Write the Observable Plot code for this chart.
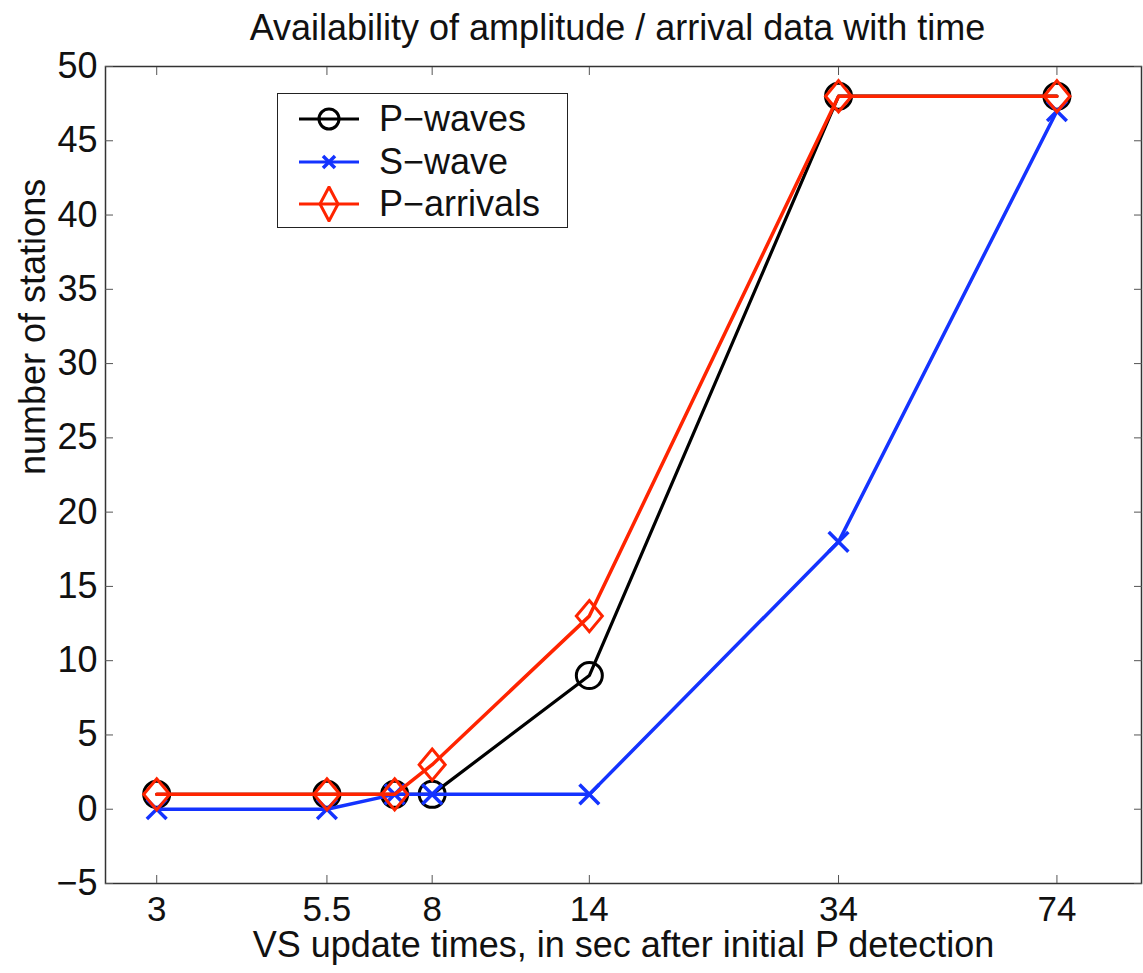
<!DOCTYPE html>
<html><head><meta charset="utf-8">
<script src="https://cdn.jsdelivr.net/npm/d3@7"></script>
<script src="https://cdn.jsdelivr.net/npm/@observablehq/plot@0.6"></script>
<style>
body{margin:0;background:#fff;font-family:"Liberation Sans",Arial,sans-serif;}
#wrap{position:relative;width:1143px;height:973px;}
#title{height:50px;line-height:56px;text-align:center;padding-left:92px;font-size:36px;color:#111;white-space:nowrap;}
#legend{position:absolute;left:277px;top:93px;width:289px;height:133px;border:1.5px solid #222;background:#fff;}
.lg{position:absolute;left:19px;height:42px;display:flex;align-items:center;font-size:36px;color:#111;white-space:nowrap;}
.lg svg{margin-right:18px;}
</style></head>
<body><div id="wrap"><div id="title">Availability of amplitude / arrival data with time</div><div id="chart"></div><div id="legend"></div></div>
<script>
const times = [3, 5.5, 7, 8, 14, 34, 74];
const pWaves = [1, 1, 1, 1, 9, 48, 48];
const sWave = [0, 0, 1, 1, 1, 18, 47];
const pArrivals = [1, 1, 1, 3, 13, 48, 48];
const xTicks = [3, 5.5, 8, 14, 34, 74];
const yTicks = [-5, 0, 5, 10, 15, 20, 25, 30, 35, 40, 45, 50];
const seriesNames = ["P\u2212waves", "S\u2212wave", "P\u2212arrivals"];
const xLabel = "VS update times, in sec after initial P detection";
const yLabel = "number of stations";
const colors = ["#000000", "#1433ff", "#ff2400"];

const rows = (vals) => times.map((t, i) => ({t, v: vals[i]}));
const dataP = rows(pWaves), dataS = rows(sWave), dataA = rows(pArrivals);

// slightly tall diamond (as in the reference)
const tallDiamond = {
  draw(ctx, size) {
    const r = Math.sqrt(size / Math.PI);
    const w = r, h = r * 1.2;
    ctx.moveTo(0, -h); ctx.lineTo(w, 0); ctx.lineTo(0, h); ctx.lineTo(-w, 0); ctx.closePath();
  }
};
const fmtY = d => d < 0 ? "\u2212" + Math.abs(d) : String(d);

const chart = Plot.plot({
  width: 1143, height: 923,
  marginLeft: 105, marginRight: 2, marginTop: 16, marginBottom: 90,
  style: {fontFamily: "'Liberation Sans', Arial, sans-serif", fontSize: "36px", color: "#111", overflow: "visible"},
  x: {type: "log", domain: [2.5, 100], axis: null},
  y: {domain: [-5, 50], axis: null},
  marks: [
    Plot.frame({stroke: "#333", strokeWidth: 1.5}),
    // inward ticks on all four sides
    Plot.axisX(xTicks, {anchor: "bottom", tickSize: -8, tickFormat: () => "", label: null, stroke: "#555"}),
    Plot.axisX(xTicks, {anchor: "top", tickSize: -8, tickFormat: () => "", label: null, stroke: "#555"}),
    Plot.axisY(yTicks, {anchor: "left", tickSize: -8, tickFormat: () => "", label: null, stroke: "#555"}),
    Plot.axisY(yTicks, {anchor: "right", tickSize: -8, tickFormat: () => "", label: null, stroke: "#555"}),
    // tick labels
    Plot.text(xTicks, {x: d => d, frameAnchor: "bottom", dy: 26, lineAnchor: "middle", text: d => String(d), fontSize: 35, fill: "#111"}),
    Plot.text(yTicks, {y: d => d, frameAnchor: "left", dx: -8, textAnchor: "end", lineAnchor: "middle", text: fmtY, fontSize: 36, fill: "#111"}),
    // axis labels
    Plot.text([xLabel], {frameAnchor: "bottom", dy: 62, lineAnchor: "middle", text: d => d, fontSize: 36, fill: "#111"}),
    Plot.text([yLabel], {frameAnchor: "left", dx: -72, rotate: -90, lineAnchor: "middle", text: d => d, fontSize: 36, fill: "#111"}),
    // series
    Plot.line(dataP, {x: "t", y: "v", stroke: colors[0], strokeWidth: 3.2}),
    Plot.dot(dataP, {x: "t", y: "v", stroke: colors[0], symbol: "circle", r: 13, strokeWidth: 3, fill: "none"}),
    Plot.line(dataS, {x: "t", y: "v", stroke: colors[1], strokeWidth: 3.5}),
    Plot.dot(dataS, {x: "t", y: "v", stroke: colors[1], symbol: "times", r: 9, strokeWidth: 3.5}),
    Plot.line(dataA, {x: "t", y: "v", stroke: colors[2], strokeWidth: 3.5}),
    Plot.dot(dataA, {x: "t", y: "v", stroke: colors[2], symbol: tallDiamond, r: 13, strokeWidth: 3, fill: "none"})
  ]
});
document.getElementById("chart").appendChild(chart);

// legend
const leg = document.getElementById("legend");
const sym = [
  '<circle cx="32" cy="18" r="10" fill="none" stroke-width="3"/>',
  '<path d="M26 12 L38 24 M38 12 L26 24" stroke-width="3.5"/>',
  '<path d="M32 1 L41 18 L32 35 L23 18 Z" fill="none" stroke-width="3"/>'
];
seriesNames.forEach((name, i) => {
  const d = document.createElement("div");
  d.className = "lg";
  d.style.top = (4 + i * 42.5) + "px";
  d.innerHTML = `<svg width="64" height="36" stroke="${colors[i]}"><line x1="2" y1="18" x2="62" y2="18" stroke-width="3"/>${sym[i]}</svg><span>${name}</span>`;
  leg.appendChild(d);
});
</script></body></html>
